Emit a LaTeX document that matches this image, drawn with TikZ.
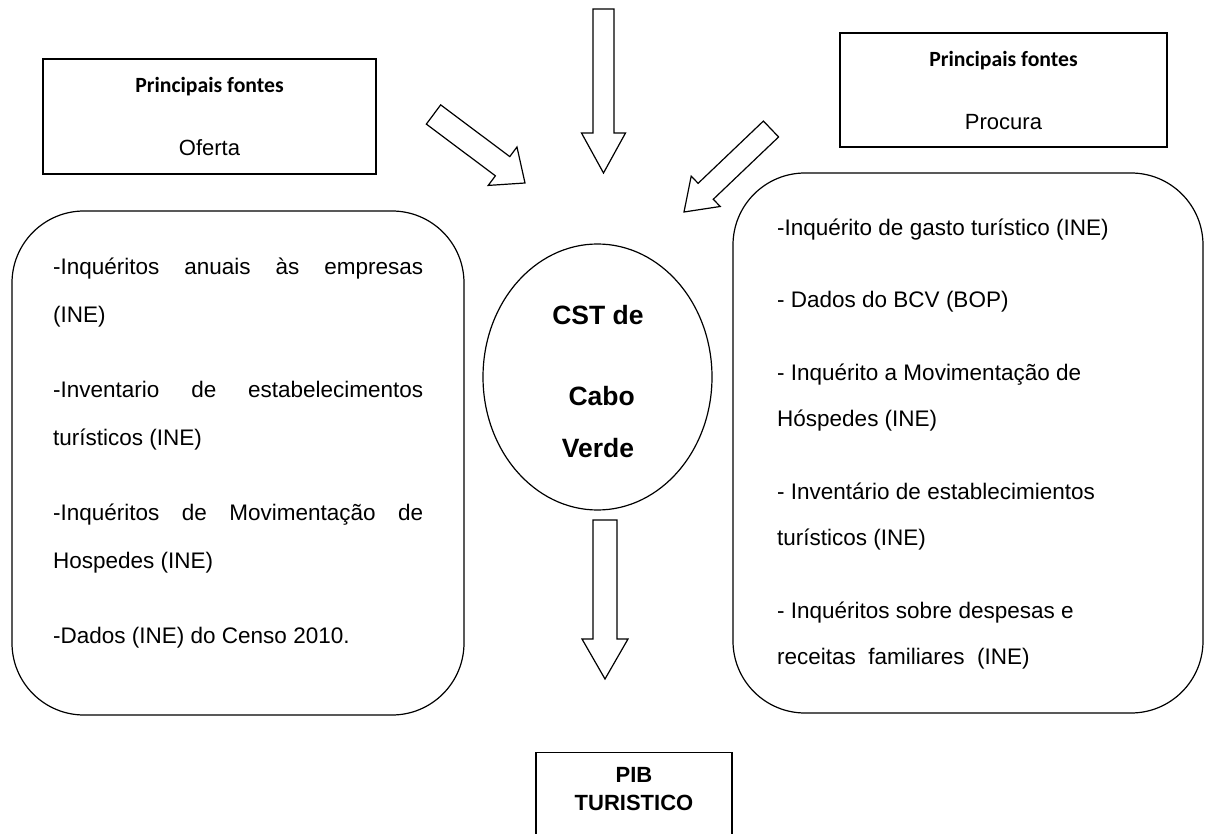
\documentclass[tikz,border=0pt]{standalone}
\usepackage{fontspec}
\setmainfont{Liberation Sans}
\newfontfamily\calibri{Carlito}
\usetikzlibrary{shapes.geometric,calc}
\setlength{\parindent}{0pt}

% Justified line of the list on the left.
\newcommand{\fullline}[1]{\makebox[370pt][s]{#1}}
% Hollow block arrow: tail, tip, head length, half shaft, half head.
\newcommand{\blockarrow}[5]{%
  \coordinate (#1-base) at ($(#2)!#3pt!(#1)$);
  \draw [hollow] ($(#1)!#4pt!90:(#2)$) -- ($(#1-base)!#4pt!90:(#2)$)
    -- ($(#1-base)!#5pt!90:(#2)$) -- (#2)
    -- ($(#1-base)!#5pt!-90:(#2)$) -- ($(#1-base)!#4pt!-90:(#2)$)
    -- ($(#1)!#4pt!-90:(#2)$) -- cycle;}

\begin{document}
\begin{tikzpicture}[x=1pt, y=-1pt,
                    box/.style={rectangle, draw, line width=1.2pt, inner sep=0pt},
                    roundbox/.style={box, rounded corners=72pt},
                    hollow/.style={draw, fill=white, line width=1.2pt, line join=miter},
                    body/.style={inner sep=0pt, align=left, anchor=base west},
                    title/.style={box, align=center, font=\fontsize{22}{63}\selectfont}]
  \useasboundingbox (0,0) rectangle (1211,834);
  \clip (0,0) rectangle (1211,834);
  \fill [white] (0,0) rectangle (1211,834);

  % Sources.
  \node at (209.5,116.5) [title, minimum width=333pt, minimum height=115pt, name=offer]
        {{\calibri\bfseries\fontsize{21.7}{63}\selectfont Principais fontes}\\Oferta};
  \node at (1003.5,90) [title, minimum width=327pt, minimum height=114pt, name=demand]
        {{\calibri\bfseries\fontsize{21.7}{63}\selectfont Principais fontes}\\Procura};

  % Lists of surveys (placed by the baseline of their last line).
  \node at (238,463) [roundbox, minimum width=452pt, minimum height=504pt, name=offerlist] {};
  \node at (968,443) [roundbox, minimum width=470pt, minimum height=540pt, name=demandlist] {};
  \node at (53,643) [body, font=\fontsize{22.5}{48}\selectfont, name=offertext]
        {\fullline{-Inquéritos anuais às empresas}\\(INE)\\[27pt]
         \fullline{-Inventario de estabelecimentos}\\turísticos (INE)\\[27pt]
         \fullline{-Inquéritos de Movimentação de}\\Hospedes (INE)\\[27pt]
         -Dados (INE) do Censo 2010.};
  \node at (777,664.5) [body, font=\fontsize{22.5}{46.5}\selectfont, name=demandtext]
        {-Inquérito de gasto turístico (INE)\\[26pt]
         - Dados do BCV (BOP)\\[26pt]
         - Inquérito a Movimentação de\\Hóspedes (INE)\\[26pt]
         - Inventário de establecimientos\\turísticos (INE)\\[26pt]
         - Inquéritos sobre despesas e\\receitas\ \ familiares\ \ (INE)};

  % Account and result.
  \node at (597.5,377) [ellipse, draw, line width=1.2pt, minimum width=229pt,
                        minimum height=266pt, inner sep=0pt, name=cst] {};
  \node at (598,381.3) [inner sep=0pt, align=center, font=\bfseries\fontsize{26.5}{51.5}\selectfont,
                        name=cstlabel] {CST de\\[30pt]\ Cabo\\Verde};
  \node at (634,752) [box, anchor=north, minimum width=196pt, minimum height=110pt, name=gdp] {};
  \node at (634,789) [inner sep=0pt, align=center, font=\bfseries\fontsize{22}{28}\selectfont,
                      name=gdplabel] {PIB\\TURISTICO};

  % Ends of the block arrows.
  \coordinate (feedTail) at (603.5,9);
  \coordinate (feedTip) at (603.5,173);
  \coordinate (offerTail) at (433.5,114.5);
  \coordinate (offerTip) at (525,183);
  \coordinate (demandTail) at (771,129);
  \coordinate (demandTip) at (684,212);
  \coordinate (resultTail) at (605,520);
  \coordinate (resultTip) at (605,679);

  \blockarrow{feedTail}{feedTip}{40}{10.5}{22}
  \blockarrow{offerTail}{offerTip}{28}{12}{24}
  \blockarrow{demandTail}{demandTip}{30}{11}{21}
  \blockarrow{resultTail}{resultTip}{40}{12}{23}
\end{tikzpicture}
\end{document}
